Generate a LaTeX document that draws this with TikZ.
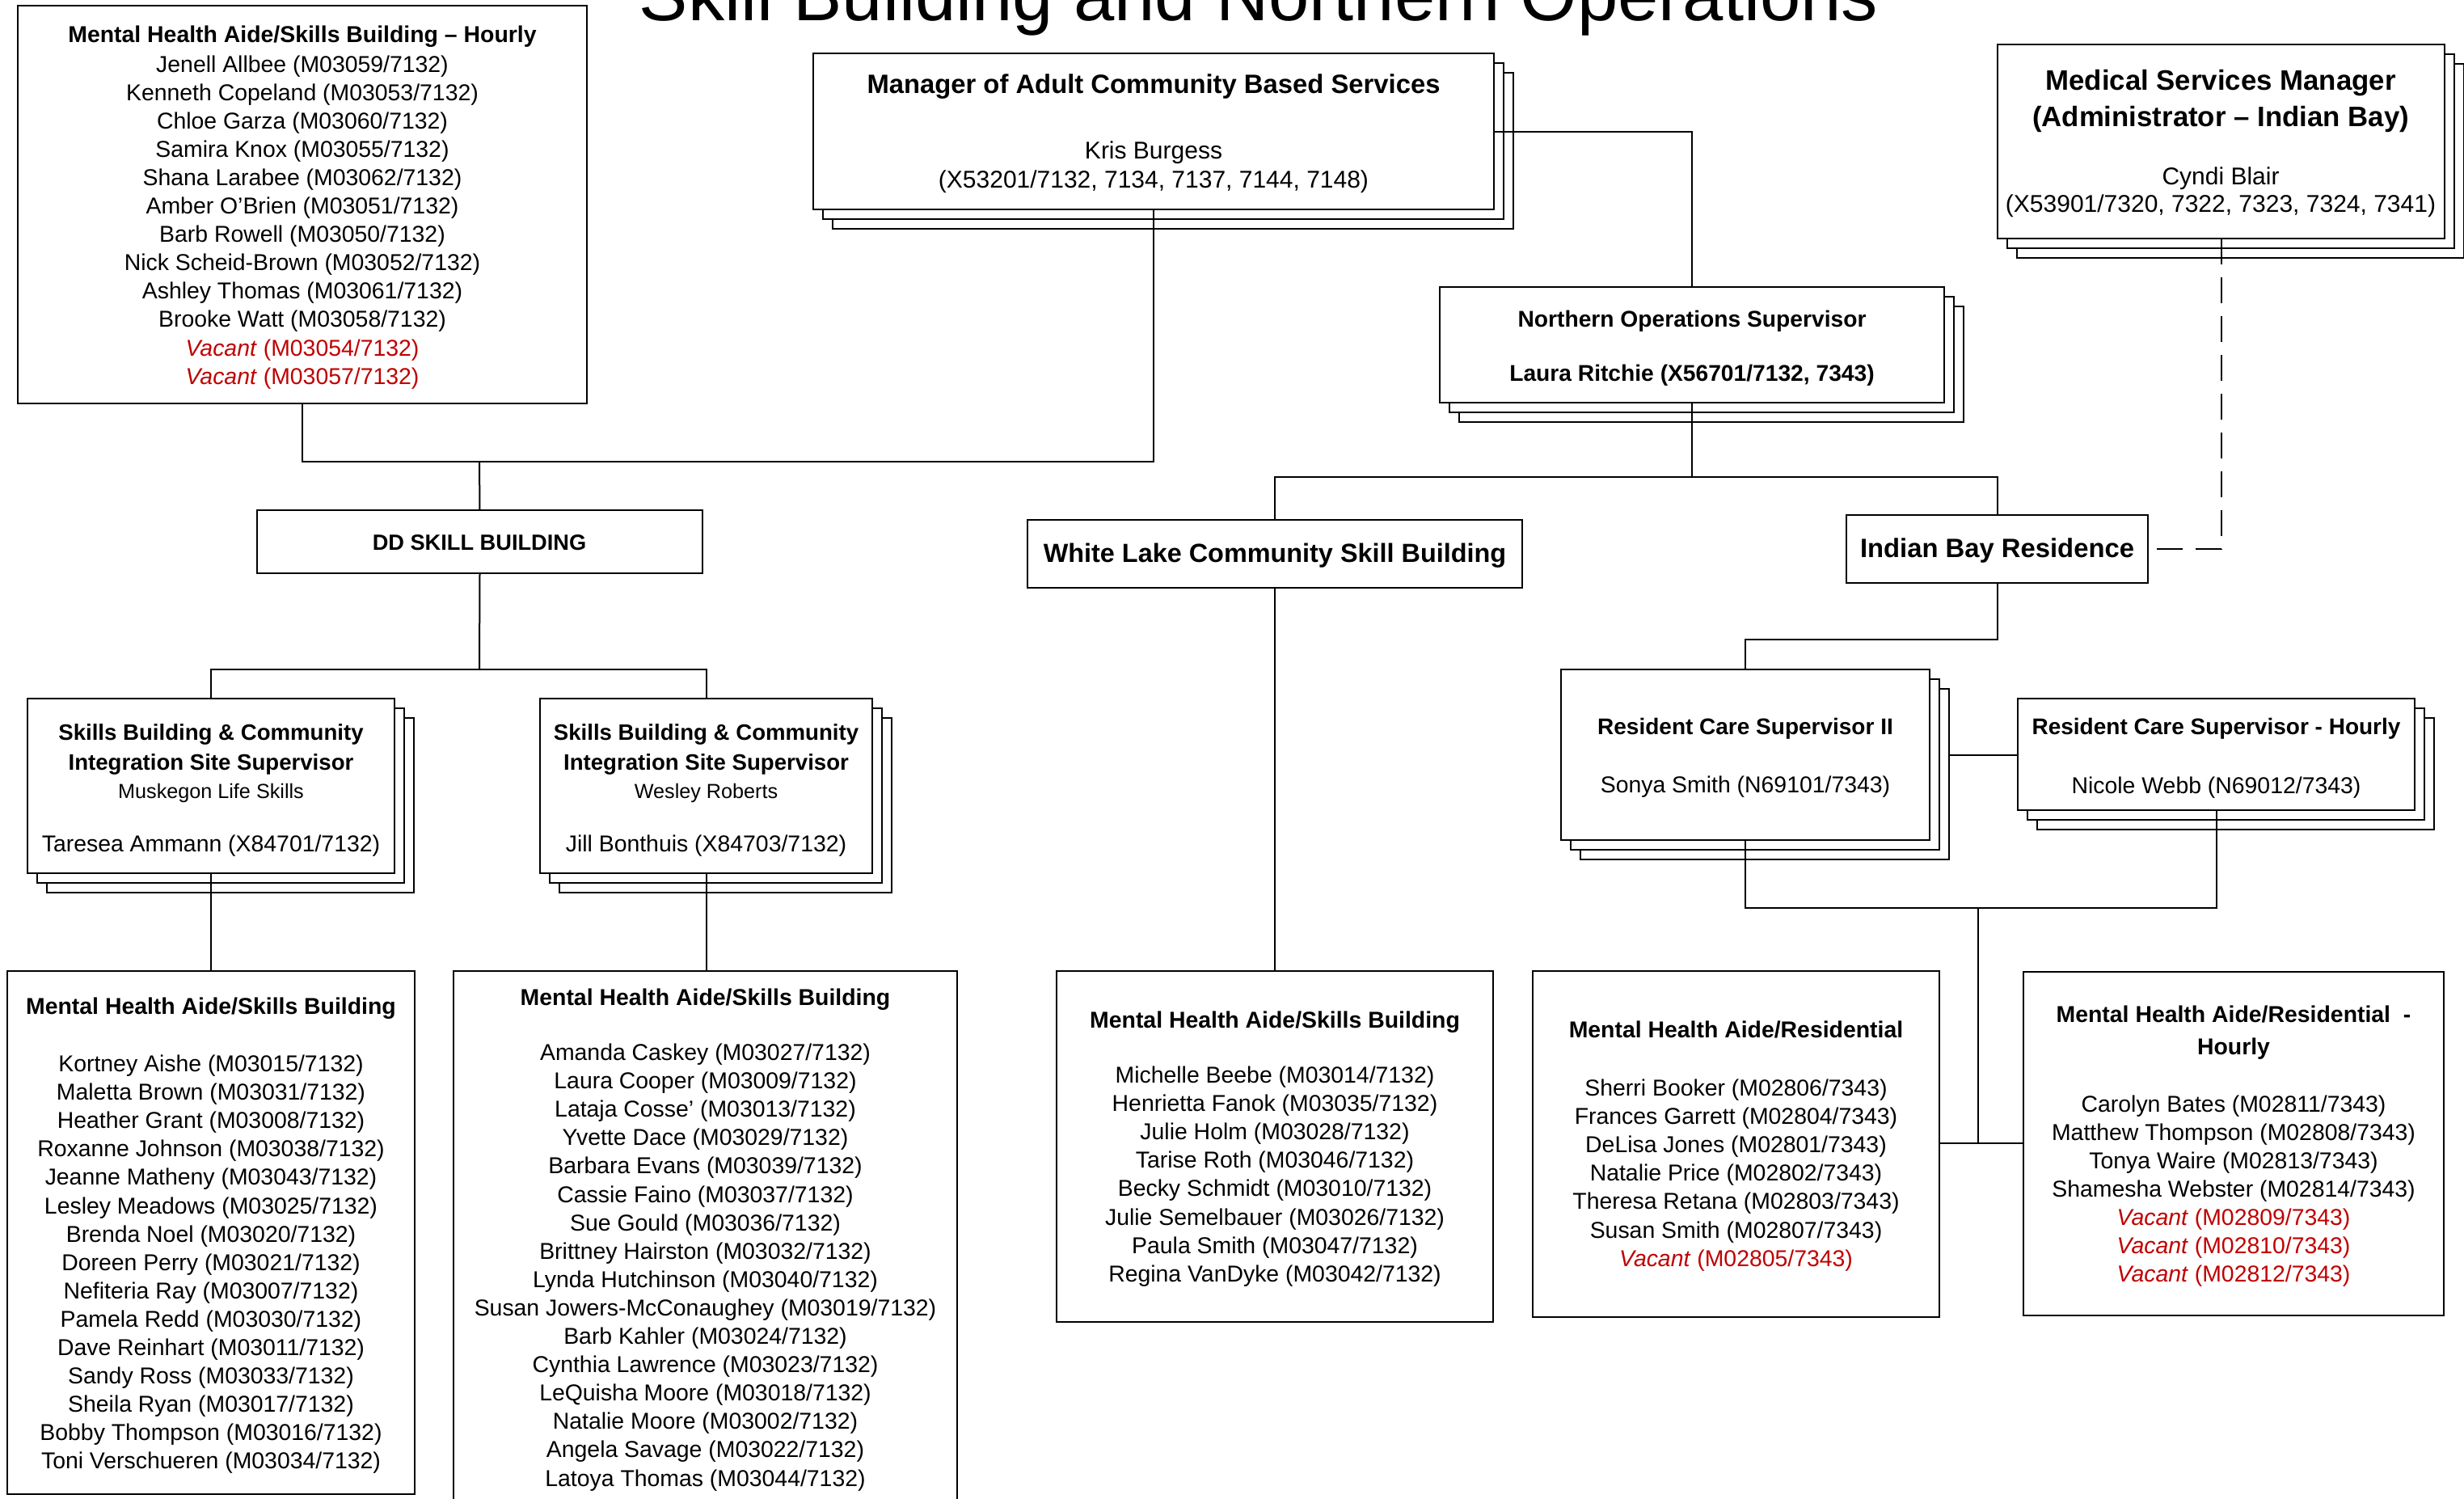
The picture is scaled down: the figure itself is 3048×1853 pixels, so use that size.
\documentclass[tikz,border=0pt]{standalone}
\usepackage{fontspec}
\setmainfont{Liberation Sans}
\usetikzlibrary{shadows}
\definecolor{vacred}{RGB}{192,0,0}
\newdimen\pxu \pxu=0.25pt
\newcommand\vacpos[1]{\textcolor{vacred}{\itshape Vacant\/ \upshape(#1)}}
% a column of centred lines, 35.1 units apart
\newcommand\namelist[5]{%
  \foreach \entry [count=\i from 0] in {#5}
    \node[#4] (#1-\i) at ({#2},{#3+35.1*\i}) {\entry};}

\begin{document}
\begin{tikzpicture}[x=0.25pt, y=-0.25pt,
  box/.style={draw, line width=0.6pt, fill=white, rectangle, inner sep=0pt, outer sep=0pt},
  stack/.style={box,
    copy shadow={shadow xshift=6pt, shadow yshift=-6pt, fill=white, draw=black},
    copy shadow={shadow xshift=3pt, shadow yshift=-3pt, fill=white, draw=black}},
  link/.style={line width=0.5pt},
  txt/.style={anchor=mid, inner sep=0pt, font=\fontsize{#1}{#1}\selectfont},
  txt/.default=7.1,
  hd/.style={anchor=mid, inner sep=0pt, font=\fontsize{#1}{#1}\selectfont\bfseries},
  hd/.default=7.1]

\useasboundingbox (0,0) rectangle (3048,1853);

% title, partly above the page edge
\node[anchor=base, inner sep=0pt, font=\fontsize{22.6}{24}\selectfont] (title) at (1557,25)
  {Skill Building and Northern Operations};

% ---------- boxes ----------
\node[box, minimum width=704\pxu, minimum height=492\pxu] (hourly) at (374,253) {};
\node[stack, minimum width=842\pxu, minimum height=193\pxu] (mgr) at (1427,162.5) {};
\node[stack, minimum width=553\pxu, minimum height=240\pxu] (med) at (2747.5,175) {};
\node[stack, minimum width=624\pxu, minimum height=143\pxu] (nos) at (2093,426.5) {};
\node[box, minimum width=551\pxu, minimum height=78\pxu] (dd) at (593.5,670) {};
\node[box, minimum width=612\pxu, minimum height=84\pxu] (wl) at (1577,685) {};
\node[box, minimum width=373\pxu, minimum height=84\pxu] (ib) at (2470.5,679) {};
\node[stack, minimum width=454\pxu, minimum height=216\pxu] (sup1) at (261,972) {};
\node[stack, minimum width=411\pxu, minimum height=216\pxu] (sup2) at (873.5,972) {};
\node[stack, minimum width=456\pxu, minimum height=211\pxu] (rcs2) at (2159,933.5) {};
\node[stack, minimum width=491\pxu, minimum height=138\pxu] (rcsh) at (2741.5,933) {};
\node[box, minimum width=504\pxu, minimum height=647\pxu] (mha1) at (261,1524.5) {};
\node[box, minimum width=623\pxu, minimum height=680\pxu] (mha2) at (872.5,1541) {};
\node[box, minimum width=540\pxu, minimum height=434\pxu] (mha3) at (1577,1418) {};
\node[box, minimum width=503\pxu, minimum height=428\pxu] (mhar) at (2147.5,1415) {};
\node[box, minimum width=520\pxu, minimum height=425\pxu] (mharh) at (2763,1414.5) {};

% ---------- connectors ----------
\coordinate (jTop) at (593,571);
\coordinate (jNos) at (2093,590);
\coordinate (jIb) at (2470.5,791);
\coordinate (jDd) at (593,828);
\coordinate (jRes) at (2447,1123);
\coordinate (jRes2) at (2447,1414);

\draw[link] (hourly.south) |- (jTop) -| (mgr.south);
\draw[link] (jTop) -- (dd.north);
\draw[link] (mgr.east) -| (nos.north);
\draw[link] (nos.south) -- (jNos);
\draw[link] (wl.north) |- (jNos) -| (ib.north);
\draw[link, dash pattern=on 8pt off 4pt] (med.south) |- (ib.east);
\draw[link] (ib.south) -- (jIb) -| (rcs2.north);
\draw[link] ([xshift=5.75pt]rcs2.east) -- (rcs2.east -| rcsh.west);
\draw[link] (rcs2.south) |- (jRes) -| (rcsh.south);
\draw[link] (jRes) -- (jRes2);
\draw[link] (mhar.east |- jRes2) -- (mharh.west |- jRes2);
\draw[link] (dd.south) -- (jDd);
\draw[link] (sup1.north) |- (jDd) -| (sup2.north);
\draw[link] (sup1.south) -- (sup1.south |- mha1.north);
\draw[link] (sup2.south) -- (sup2.south |- mha2.north);
\draw[link] (wl.south) -- (wl.south |- mha3.north);

% ---------- texts ----------
\node[hd] (hourly-h) at (374,42) {Mental Health Aide/Skills Building – Hourly};
\namelist{hourly}{374}{78.5}{txt}{Jenell Allbee (M03059/7132), Kenneth Copeland (M03053/7132),
  Chloe Garza (M03060/7132), Samira Knox (M03055/7132), Shana Larabee (M03062/7132),
  Amber O’Brien (M03051/7132), Barb Rowell (M03050/7132), Nick Scheid-Brown (M03052/7132),
  Ashley Thomas (M03061/7132), Brooke Watt (M03058/7132),
  \vacpos{M03054/7132}, \vacpos{M03057/7132}}

\node[hd=8.2] (mgr-h) at (1427,105) {Manager of Adult Community Based Services};
\node[txt=7.5] (mgr-n) at (1427,186) {Kris Burgess};
\node[txt=7.5] (mgr-p) at (1427,222) {(X53201/7132, 7134, 7137, 7144, 7148)};

\node[hd=8.7] (med-h1) at (2747,101) {Medical Services Manager};
\node[hd=8.7] (med-h2) at (2747,146) {(Administrator – Indian Bay)};
\node[txt=7.5] (med-n) at (2747,218) {Cyndi Blair};
\node[txt=7.5] (med-p) at (2747,252) {(X53901/7320, 7322, 7323, 7324, 7341)};

\node[hd=7.05] (nos-h) at (2093,394) {Northern Operations Supervisor};
\node[hd=7.05] (nos-n) at (2093,461) {Laura Ritchie (X56701/7132, 7343)};

\node[hd=6.8] (dd-t) at (593,670) {DD SKILL BUILDING};
\node[hd=8.1] (wl-t) at (1577,685) {White Lake Community Skill Building};
\node[hd=8.2] (ib-t) at (2470.5,679) {Indian Bay Residence};

\node[hd=6.9] (sup1-h1) at (261,904.5) {Skills Building \& Community};
\node[hd=6.9] (sup1-h2) at (261,942) {Integration Site Supervisor};
\node[txt=6.3] (sup1-s) at (261,977) {Muskegon Life Skills};
\node[txt] (sup1-n) at (261,1043) {Taresea Ammann (X84701/7132)};

\node[hd=6.9] (sup2-h1) at (873.5,904.5) {Skills Building \& Community};
\node[hd=6.9] (sup2-h2) at (873.5,942) {Integration Site Supervisor};
\node[txt=6.3] (sup2-s) at (873.5,977) {Wesley Roberts};
\node[txt] (sup2-n) at (873.5,1043) {Jill Bonthuis (X84703/7132)};

\node[hd=7.0] (rcs2-h) at (2159,898) {Resident Care Supervisor II};
\node[txt] (rcs2-n) at (2159,969.6) {Sonya Smith (N69101/7343)};
\node[hd=7.0] (rcsh-h) at (2741.5,898) {Resident Care Supervisor - Hourly};
\node[txt] (rcsh-n) at (2741.5,971) {Nicole Webb (N69012/7343)};

\node[hd] (mha1-h) at (261,1244) {Mental Health Aide/Skills Building};
\namelist{mha1}{261}{1315}{txt}{Kortney Aishe (M03015/7132), Maletta Brown (M03031/7132),
  Heather Grant (M03008/7132), Roxanne Johnson (M03038/7132), Jeanne Matheny (M03043/7132),
  Lesley Meadows (M03025/7132), Brenda Noel (M03020/7132), Doreen Perry (M03021/7132),
  Nefiteria Ray (M03007/7132), Pamela Redd (M03030/7132), Dave Reinhart (M03011/7132),
  Sandy Ross (M03033/7132), Sheila Ryan (M03017/7132), Bobby Thompson (M03016/7132),
  Toni Verschueren (M03034/7132)}

\node[hd] (mha2-h) at (872.5,1233) {Mental Health Aide/Skills Building};
\namelist{mha2}{872.5}{1301}{txt}{Amanda Caskey (M03027/7132), Laura Cooper (M03009/7132),
  Lataja Cosse’ (M03013/7132), Yvette Dace (M03029/7132), Barbara Evans (M03039/7132),
  Cassie Faino (M03037/7132), Sue Gould (M03036/7132), Brittney Hairston (M03032/7132),
  Lynda Hutchinson (M03040/7132), Susan Jowers-McConaughey (M03019/7132),
  Barb Kahler (M03024/7132), Cynthia Lawrence (M03023/7132), LeQuisha Moore (M03018/7132),
  Natalie Moore (M03002/7132), Angela Savage (M03022/7132), Latoya Thomas (M03044/7132)}

\node[hd] (mha3-h) at (1577,1261) {Mental Health Aide/Skills Building};
\namelist{mha3}{1577}{1329}{txt}{Michelle Beebe (M03014/7132), Henrietta Fanok (M03035/7132),
  Julie Holm (M03028/7132), Tarise Roth (M03046/7132), Becky Schmidt (M03010/7132),
  Julie Semelbauer (M03026/7132), Paula Smith (M03047/7132), Regina VanDyke (M03042/7132)}

\node[hd] (mhar-h) at (2147.5,1273) {Mental Health Aide/Residential};
\namelist{mhar}{2147.5}{1345}{txt}{Sherri Booker (M02806/7343), Frances Garrett (M02804/7343),
  DeLisa Jones (M02801/7343), Natalie Price (M02802/7343), Theresa Retana (M02803/7343),
  Susan Smith (M02807/7343), \vacpos{M02805/7343}}

\node[hd] (mharh-h1) at (2763,1254) {Mental Health Aide/Residential\ \ -};
\node[hd] (mharh-h2) at (2763,1294) {Hourly};
\namelist{mharh}{2763}{1364.5}{txt}{Carolyn Bates (M02811/7343), Matthew Thompson (M02808/7343),
  Tonya Waire (M02813/7343), Shamesha Webster (M02814/7343),
  \vacpos{M02809/7343}, \vacpos{M02810/7343}, \vacpos{M02812/7343}}

\end{tikzpicture}
\end{document}
